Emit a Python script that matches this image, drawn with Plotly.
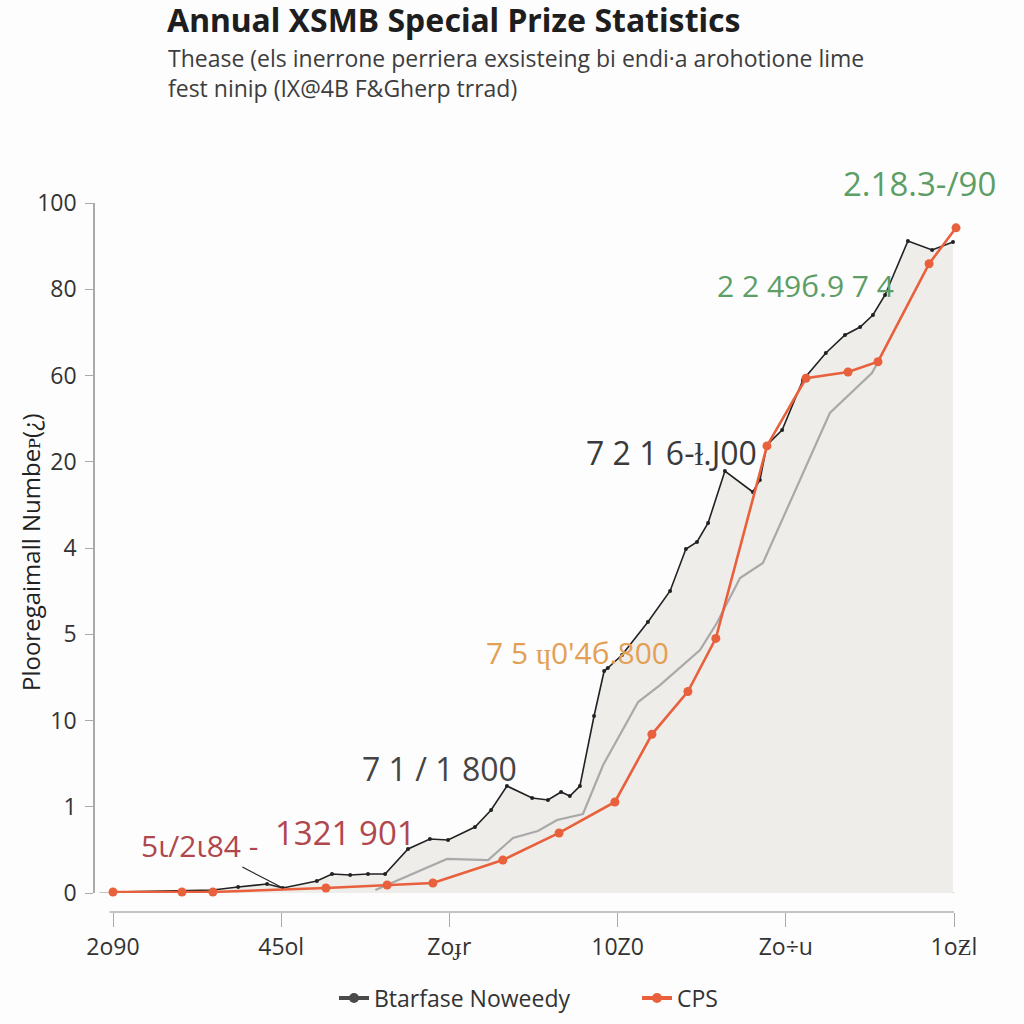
import plotly.graph_objects as go

# ---------------- data ----------------
x_tick_vals = [2000, 2005, 2010, 2015, 2020, 2025]
x_tick_text = ["2o90", "45ol", "Zoɟr", "10Z0", "Zo÷u", "1oƵl"]

y_tick_vals = [0, 12.5, 25, 37.5, 50, 62.5, 75, 87.5, 100]
y_tick_text = ["0", "1", "10", "5", "4", "20", "60", "80", "100"]

black_x = [2000.0, 2002.05, 2002.97, 2003.72, 2004.58, 2005.05, 2006.06, 2006.51, 2007.05,
           2007.58, 2008.09, 2008.77, 2009.42, 2009.96, 2010.76, 2011.24, 2011.71, 2012.46,
           2012.93, 2013.32, 2013.58, 2013.88, 2014.30, 2014.60, 2014.71, 2015.13, 2015.90,
           2016.56, 2017.03, 2017.36, 2017.69, 2018.19, 2019.02, 2019.23, 2019.44, 2019.89,
           2020.51, 2021.19, 2021.76, 2022.21, 2022.59, 2022.95, 2023.63, 2024.35, 2024.97]
black_y = [0.14, 0.29, 0.43, 0.87, 1.30, 0.72, 1.74, 2.75, 2.61,
           2.75, 2.75, 6.38, 7.83, 7.68, 9.57, 12.03, 15.51, 13.77,
           13.48, 14.64, 14.06, 15.51, 25.65, 32.17, 32.61, 34.49, 39.28,
           43.77, 49.86, 50.87, 53.62, 61.16, 58.12, 59.86, 64.93, 67.10,
           74.35, 78.26, 80.87, 82.03, 83.77, 86.67, 94.49, 93.19, 94.35]

gray_x = [2007.8, 2009.93, 2011.15, 2011.89, 2012.63, 2013.20, 2013.97, 2014.57, 2015.61,
          2016.26, 2017.45, 2017.95, 2018.64, 2019.32, 2021.31, 2022.56, 2022.74]
gray_y = [0.43, 4.93, 4.78, 7.97, 8.99, 10.58, 11.45, 18.55, 27.68,
          30.14, 35.22, 39.13, 45.65, 47.83, 69.57, 75.36, 76.96]

orange_x = [2000.0, 2002.05, 2002.97, 2006.33, 2008.15, 2009.51, 2011.59, 2013.26, 2014.92,
            2016.02, 2017.09, 2017.92, 2019.44, 2020.6, 2021.85, 2022.74, 2024.26, 2025.06]
orange_y = [0.15, 0.15, 0.15, 0.72, 1.16, 1.45, 4.78, 8.70, 13.19,
            23.0, 29.2, 36.9, 64.8, 74.6, 75.5, 77.0, 91.2, 96.4]

series_names = ["Btarfase Noweedy", "CPS"]

# ---------------- layout geometry ----------------
W, H = 1024, 1024
L = 95                      # y-axis line
RIGHT = 975
T = 203                     # value 100
BOT = 912                   # x-axis line
R = W - RIGHT
B = H - BOT
plot_w = RIGHT - L
plot_h = BOT - T
dom0 = (912 - 893) / plot_h


def px_x(p):   # page x -> paper x
    return (p - L) / plot_w


def px_y(p):   # page y -> paper y
    return (BOT - p) / plot_h


BLACK = "#222222"
ORANGE = "#e8603c"
GRAY = "#a9a9a9"
FILL = "#eeedea"

fig = go.Figure()

fig.add_trace(go.Scatter(
    x=black_x, y=black_y, mode="lines+markers", fill="tozeroy", fillcolor=FILL,
    line=dict(color=BLACK, width=1.6), marker=dict(size=4, color=BLACK),
    showlegend=False, cliponaxis=False, hoverinfo="skip"))
fig.add_trace(go.Scatter(
    x=gray_x, y=gray_y, mode="lines",
    line=dict(color=GRAY, width=2.2), showlegend=False, cliponaxis=False, hoverinfo="skip"))
fig.add_trace(go.Scatter(
    x=orange_x, y=orange_y, mode="lines+markers",
    line=dict(color=ORANGE, width=2.6), marker=dict(size=9, color=ORANGE),
    showlegend=False, cliponaxis=False, hoverinfo="skip"))

# legend entries
fig.add_trace(go.Scatter(x=[None], y=[None], mode="lines+markers", name=series_names[0],
                         line=dict(color="#4a4a4a", width=4), marker=dict(size=10, color="#4a4a4a")))
fig.add_trace(go.Scatter(x=[None], y=[None], mode="lines+markers", name=series_names[1],
                         line=dict(color=ORANGE, width=4), marker=dict(size=10, color=ORANGE)))

ann_font = "Open Sans"
GREEN = "#5c9e66"
annotations = [
    dict(x=2020.6, y=88.0, text="2 2 49б.9 7 4", font=dict(size=30, color=GREEN, family=ann_font)),
    dict(x=2016.6, y=63.8, text="7 2 1 6-ɫ.J00", font=dict(size=32, color="#3a3a3a", family=ann_font)),
    dict(x=2013.8, y=34.9, text="7 5 ɥ0'4б.800", font=dict(size=30, color="#e3a055", family=ann_font)),
    dict(x=2009.7, y=18.1, text="7 1 / 1 800", font=dict(size=32, color="#444444", family=ann_font)),
    dict(x=2006.9, y=8.8, text="1321 901", font=dict(size=33, color="#b0474d", family=ann_font)),
]
for a in annotations:
    a.update(showarrow=False, xref="x", yref="y", xanchor="center", yanchor="middle")

annotations.append(dict(
    x=px_x(919), y=px_y(183), xref="paper", yref="paper", text="2.18.3-/90",
    showarrow=False, xanchor="center", yanchor="middle",
    font=dict(size=33, color=GREEN, family=ann_font)))

annotations.append(dict(
    x=2005.05, y=0.72, xref="x", yref="y", text="5ι/2ι84 -",
    font=dict(size=30, color="#b0474d", family=ann_font),
    showarrow=True, arrowhead=0, arrowwidth=1.2, arrowcolor=BLACK,
    ax=-83, ay=-43, xanchor="center", yanchor="middle"))

# subtitle
annotations.append(dict(
    xref="paper", yref="paper", x=px_x(166), y=px_y(40),
    xanchor="left", yanchor="top", align="left", showarrow=False,
    text="Thease (els inerrone perriera exsisteing bi endi·a arohotione lime<br>fest ninip (IX@4B F&Gherp trrad)",
    font=dict(size=23, color="#3d3d3d", family="Open Sans")))

# y-axis title
annotations.append(dict(
    xref="paper", yref="paper", x=px_x(30), y=px_y(552),
    xanchor="center", yanchor="middle", textangle=-90, showarrow=False,
    text="Plooregaimall Numbeᴘ(¿)",
    font=dict(size=24, color="#222222", family="Open Sans")))

shapes = [
    dict(type="line", xref="x", yref="y", x0=1999.6, x1=2025.0, y0=0, y1=0,
         line=dict(color="#c4c4c4", width=2.2), layer="below"),
    dict(type="line", xref="x", yref="paper", x0=1999.9, x1=2025.0, y0=0, y1=0,
         line=dict(color="#b0b0b0", width=1.6)),
]

fig.update_layout(
    width=W, height=H,
    margin=dict(l=L, r=R, t=T, b=B, autoexpand=False),
    paper_bgcolor="#fdfdfd", plot_bgcolor="#fdfdfd",
    title=dict(text="<b>Annual XSMB Special Prize Statistics</b>", xref="container", yref="container",
               x=167 / W, xanchor="left", y=1 - 21 / H, yanchor="middle",
               font=dict(size=32, color="#1e1e1e", family="Noto Sans")),
    annotations=annotations,
    shapes=shapes,
    xaxis=dict(range=[2000 - 18 / 33.64, 2000 + 862 / 33.64], anchor="free", position=0,
               showgrid=False, zeroline=False, showline=False,
               tickmode="array", tickvals=x_tick_vals, ticktext=x_tick_text,
               ticks="outside", ticklen=14, tickcolor="#aaaaaa", tickwidth=1.4,
               ticklabelstandoff=0,
               tickfont=dict(size=23, color="#333333", family="Open Sans")),
    yaxis=dict(range=[0, 100], domain=[dom0, 1],
               showgrid=False, zeroline=False, showline=True, linecolor="#aaaaaa", linewidth=1.5,
               tickmode="array", tickvals=y_tick_vals, ticktext=y_tick_text,
               ticks="outside", ticklen=8, tickcolor="#aaaaaa", ticklabelstandoff=4,
               tickfont=dict(size=23, color="#333333", family="Open Sans")),
    legend=dict(orientation="h", x=px_x(334), xanchor="left",
                y=px_y(998), yanchor="middle",
                font=dict(size=23, color="#333333", family="Open Sans"),
                bgcolor="rgba(0,0,0,0)", entrywidth=258, entrywidthmode="pixels"),
    showlegend=True,
)

fig.write_html("out.html", config={"displayModeBar": False},
               post_script="document.body.style.margin='0';document.body.style.overflow='hidden';")
